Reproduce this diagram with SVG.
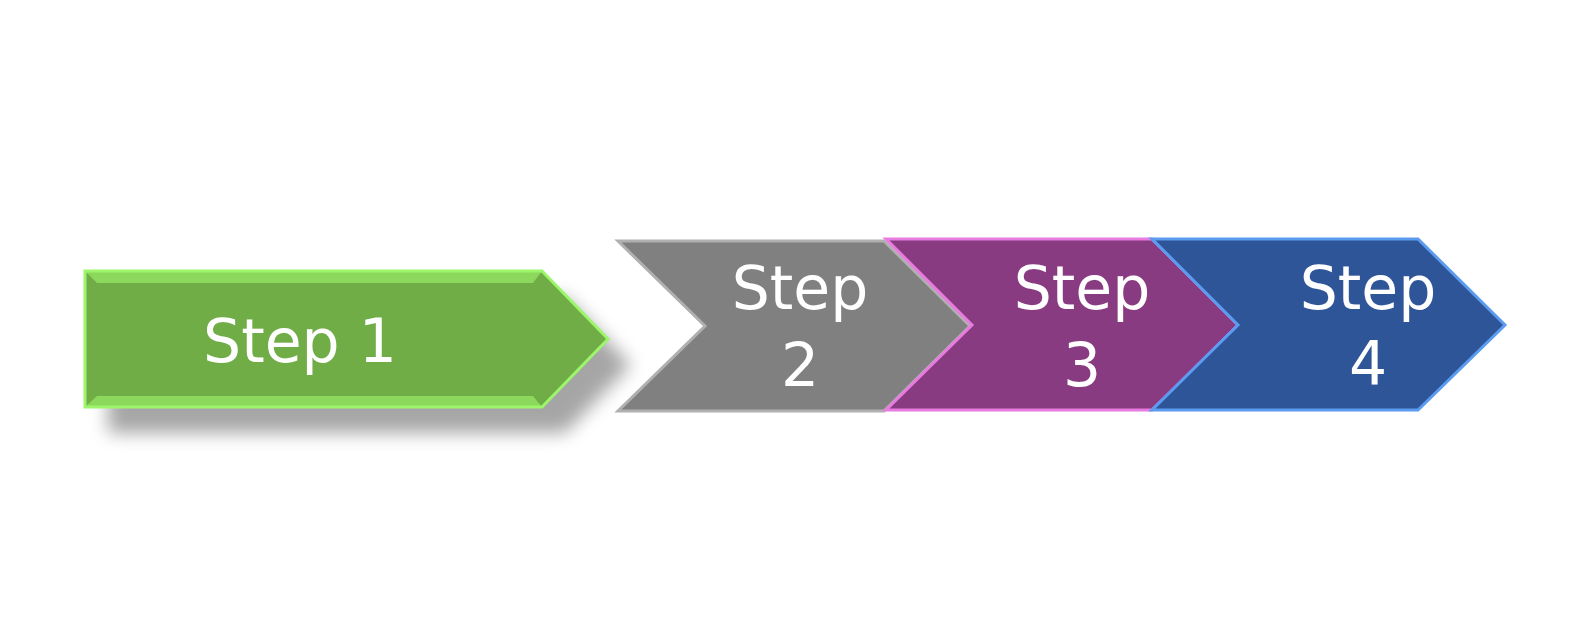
<svg xmlns="http://www.w3.org/2000/svg" width="1583" height="644" viewBox="0 0 1583 644">
<defs>
<filter id="sh" x="-20%" y="-30%" width="140%" height="160%"><feGaussianBlur stdDeviation="9"/></filter>
<style>
text{font-family:"DejaVu Sans",Verdana,sans-serif;font-size:60px;fill:#fff;text-anchor:middle}
</style>
</defs>
<rect width="1583" height="644" fill="#fff"/>
<g id="step1">
<polygon points="108,297 565,297 631,365 565,433 108,433" fill="#000" opacity="0.35" filter="url(#sh)"/>
<polygon points="85,271 542,271 608,339 542,407 85,407" fill="#70AD47" stroke="#9CF56A" stroke-width="3"/>
<polygon points="85,271 542,271 533,283 97,283" fill="#9CF56A" opacity="0.6"/>
<polygon points="85,407 542,407 533,396 97,396" fill="#9CF56A" opacity="0.6"/>
<text x="300" y="362">Step 1</text>
</g>
<g id="step2">
<polygon points="618,241 884,241 970,326 884,411 618,411 705,326" fill="#808080" stroke="#B0B0B0" stroke-width="3"/>
<text x="800" y="309">Step</text>
<text x="800" y="386">2</text>
</g>
<g id="step3">
<polygon points="886,239 1152,239 1238,325 1152,410 886,410 972,325" fill="#893B81" stroke="#E87BE0" stroke-width="3"/>
<text x="1082" y="309">Step</text>
<text x="1082" y="386">3</text>
</g>
<g id="step4">
<polygon points="1152,239 1418,239 1505,325 1418,410 1152,410 1238,325" fill="#2E5597" stroke="#5B9BF0" stroke-width="3"/>
<text x="1368" y="309">Step</text>
<text x="1368" y="384">4</text>
</g>
<g id="connectors"/>
</svg>
